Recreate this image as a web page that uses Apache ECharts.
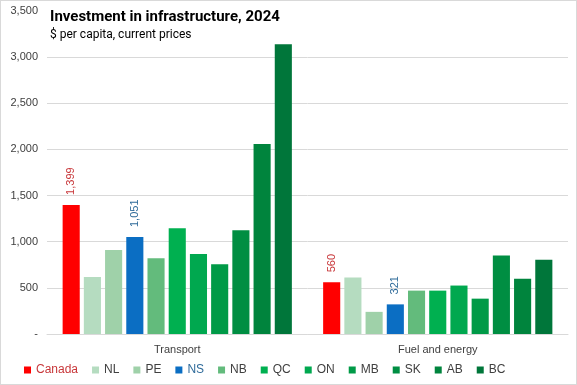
<!DOCTYPE html>
<html><head><meta charset="utf-8">
<script src="https://cdn.jsdelivr.net/npm/echarts@6/dist/echarts.min.js"></script>
<style>html,body{margin:0;padding:0;background:#fff}#c{width:575px;height:383px;border:1px solid #d9d9d9}</style>
</head><body><div id="c"></div>
<script>
const categories = ['Transport', 'Fuel and energy'];
const regions = ['Canada','NL','PE','NS','NB','QC','ON','MB','SK','AB','BC'];
const canada = [1399, 560];
const nl = [618, 612];
const pe = [909, 240];
const ns = [1051, 321];
const nb = [822, 470];
const qc = [1147, 470];
const on = [866, 525];
const mb = [757, 383];
const sk = [1125, 850];
const ab = [2060, 600];
const bc = [3140, 805];
const yTicks = [0, 500, 1000, 1500, 2000, 2500, 3000, 3500];

const values = [canada, nl, pe, ns, nb, qc, on, mb, sk, ab, bc];
const colors = ['#FF0000','#B5DCC0','#9FD1A9','#0B6EC3','#63BB7C','#00B050','#00A84F','#009A47','#008E42','#00843D','#00763A'];
const labelColors = {Canada:'#C8373A', NS:'#2F6B9A'};

const series = regions.map((r, i) => ({
  name: r, type: 'bar', data: values[i], barGap: '24%', barCategoryGap: '12%',
  itemStyle: {color: colors[i]},
  label: {show: !!labelColors[r], position: 'top', rotate: 90, align: 'left', verticalAlign: 'middle', distance: 10,
    color: labelColors[r], fontSize: 11, fontFamily: 'Liberation Sans',
    formatter: p => p.value.toLocaleString('en-US')}
}));

const chart = echarts.init(document.getElementById('c'));
chart.setOption({
  animation: false,
  title: {text: 'Investment in infrastructure, 2024', subtext: '$ per capita, current prices',
    left: 44, top: 4, itemGap: 4,
    textStyle: {fontSize: 15, fontWeight: 'bold', color: '#000', fontFamily: 'Roboto'},
    subtextStyle: {fontSize: 12, color: '#000', fontFamily: 'Roboto'}},
  grid: {left: 46, right: 8, top: 10, bottom: 50, containLabel: false},
  legend: {bottom: 3, left: 18, width: 560, itemWidth: 7, itemHeight: 7, itemGap: 14, icon: 'rect',
    textStyle: {fontSize: 12, color: '#404040', fontFamily: 'Liberation Sans'},
    data: regions.map(r => ({name: r, textStyle: {color: labelColors[r] || '#404040'}}))},
  xAxis: {type: 'category', data: categories,
    axisLine: {lineStyle: {color: '#d9d9d9'}}, axisTick: {show: false},
    axisLabel: {color: '#404040', fontSize: 11, fontFamily: 'Liberation Sans', margin: 10}},
  yAxis: {type: 'value', min: 0, max: 3500, interval: 500,
    axisLine: {show: false}, axisTick: {show: false},
    axisLabel: {color: '#404040', fontSize: 11, fontFamily: 'Liberation Sans', margin: 9,
      formatter: v => v === 0 ? '-' : v.toLocaleString('en-US')},
    splitLine: {lineStyle: {color: ['#d9d9d9','#d9d9d9','#d9d9d9','#d9d9d9','#d9d9d9','#d9d9d9','#d9d9d9','rgba(0,0,0,0)']}}},
  series: series
});
</script></body></html>
